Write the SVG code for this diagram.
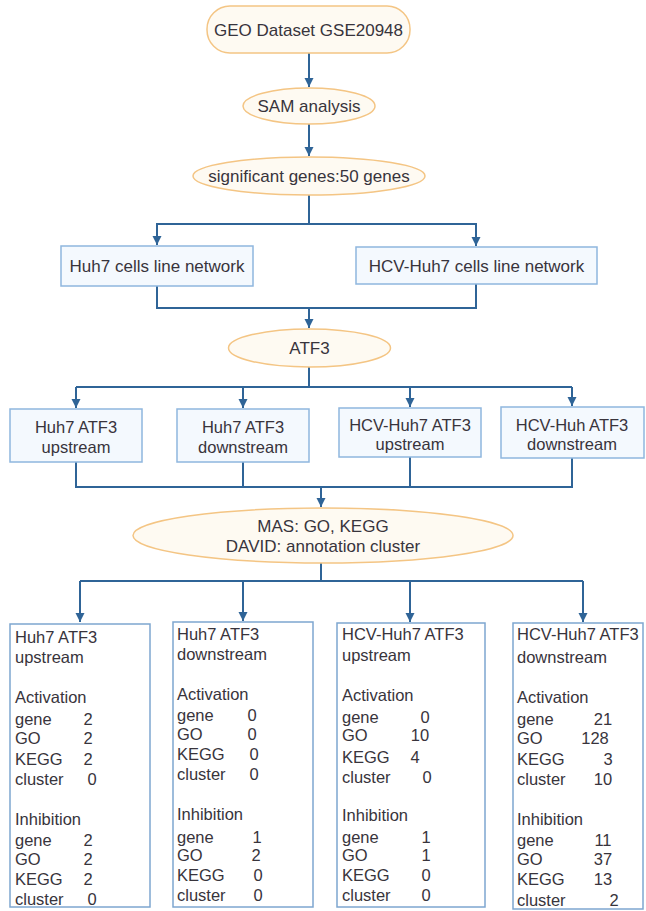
<svg xmlns="http://www.w3.org/2000/svg" width="646" height="911" viewBox="0 0 646 911">
<defs>
<marker id="arr" markerUnits="userSpaceOnUse" markerWidth="10" markerHeight="10" refX="9" refY="5" orient="auto">
<path d="M0,0.5 L9,5 L0,9.5 z" fill="#2f6497"/>
</marker>
<style>
.t{font-family:"Liberation Sans",Arial,sans-serif;font-size:17px;fill:#38343c;}
.s{font-family:"Liberation Sans",Arial,sans-serif;font-size:16.5px;fill:#38343c;}
.m{text-anchor:middle;}
.ov{fill:#fefaf2;stroke:#f4c584;stroke-width:1.5;}
.bx{fill:#f4f9fe;stroke:#8fb6de;stroke-width:1.5;}
.bb{fill:#ffffff;stroke:#7ea6d0;stroke-width:1.5;}
.c{fill:none;stroke:#2f6497;stroke-width:2;}
</style>
</defs>
<rect width="646" height="911" fill="#ffffff"/>

<g id="connectors">
<path class="c" d="M309,53 V87" marker-end="url(#arr)"/>
<path class="c" d="M309,124 V156" marker-end="url(#arr)"/>
<path class="c" d="M309,195 V224 H157 V245" marker-end="url(#arr)"/>
<path class="c" d="M309,224 H476 V246" marker-end="url(#arr)"/>
<path class="c" d="M157,286 V308 H476 V284"/>
<path class="c" d="M309,308 V328" marker-end="url(#arr)"/>
<path class="c" d="M309,367 V387"/>
<path class="c" d="M76,387 H572"/>
<path class="c" d="M76,387 V408" marker-end="url(#arr)"/>
<path class="c" d="M243,387 V408" marker-end="url(#arr)"/>
<path class="c" d="M410,387 V407" marker-end="url(#arr)"/>
<path class="c" d="M572,387 V406" marker-end="url(#arr)"/>
<path class="c" d="M76,462 V487 H572 V458"/>
<path class="c" d="M243,462 V487"/>
<path class="c" d="M410,457 V487"/>
<path class="c" d="M321,487 V507" marker-end="url(#arr)"/>
<path class="c" d="M321,563 V581"/>
<path class="c" d="M80,581 H583"/>
<path class="c" d="M80,581 V622" marker-end="url(#arr)"/>
<path class="c" d="M243,581 V621" marker-end="url(#arr)"/>
<path class="c" d="M410,581 V622" marker-end="url(#arr)"/>
<path class="c" d="M583,581 V622" marker-end="url(#arr)"/>
</g>

<g id="geo">
<rect class="ov" x="207" y="6" width="203" height="47" rx="23"/>
<text class="t m" x="308.5" y="36">GEO Dataset GSE20948</text>
</g>
<g id="sam">
<ellipse class="ov" cx="309" cy="106" rx="66" ry="18"/>
<text class="t m" x="309" y="112">SAM analysis</text>
</g>
<g id="sig">
<ellipse class="ov" cx="309" cy="176" rx="116" ry="19"/>
<text class="t m" x="309" y="182">significant genes:50 genes</text>
</g>
<g id="huh7net">
<rect class="bx" x="61" y="246" width="192" height="40"/>
<text class="t m" x="157" y="272">Huh7 cells line network</text>
</g>
<g id="hcvnet">
<rect class="bx" x="356" y="247" width="241" height="37"/>
<text class="t m" x="476.5" y="272">HCV-Huh7 cells line network</text>
</g>
<g id="atf3">
<ellipse class="ov" cx="309.5" cy="348" rx="81" ry="19"/>
<text class="t m" x="309.5" y="354">ATF3</text>
</g>

<g id="m1">
<rect class="bx" x="10" y="409" width="132" height="53"/>
<text class="s m" x="76" y="433">Huh7 ATF3</text>
<text class="s m" x="76" y="453">upstream</text>
</g>
<g id="m2">
<rect class="bx" x="177" y="409" width="132" height="53"/>
<text class="s m" x="243" y="433">Huh7 ATF3</text>
<text class="s m" x="243" y="453">downstream</text>
</g>
<g id="m3">
<rect class="bx" x="339" y="408" width="142" height="49"/>
<text class="s m" x="410" y="431">HCV-Huh7 ATF3</text>
<text class="s m" x="410" y="450">upstream</text>
</g>
<g id="m4">
<rect class="bx" x="501" y="407" width="143" height="51"/>
<text class="s m" x="572" y="431">HCV-Huh ATF3</text>
<text class="s m" x="572" y="450">downstream</text>
</g>

<g id="mas">
<ellipse class="ov" cx="323" cy="535.5" rx="190" ry="27.5"/>
<text class="t m" x="323" y="532">MAS: GO, KEGG</text>
<text class="t m" x="323" y="552">DAVID: annotation cluster</text>
</g>

<g id="b1">
<rect class="bb" x="10" y="624" width="140" height="283"/>
<text class="s" x="15" y="643">Huh7 ATF3</text>
<text class="s" x="15" y="663">upstream</text>
<text class="s" x="15" y="703">Activation</text>
<text class="s" x="15" y="725">gene</text><text class="s m" x="88" y="725">2</text>
<text class="s" x="15" y="744">GO</text><text class="s m" x="88" y="744">2</text>
<text class="s" x="15" y="765">KEGG</text><text class="s m" x="88" y="765">2</text>
<text class="s" x="15" y="785">cluster</text><text class="s m" x="92" y="785">0</text>
<text class="s" x="15" y="825">Inhibition</text>
<text class="s" x="15" y="846">gene</text><text class="s m" x="88" y="846">2</text>
<text class="s" x="15" y="865">GO</text><text class="s m" x="88" y="865">2</text>
<text class="s" x="15" y="885">KEGG</text><text class="s m" x="88" y="885">2</text>
<text class="s" x="15" y="905">cluster</text><text class="s m" x="92" y="905">0</text>
</g>
<g id="b2">
<rect class="bb" x="173" y="622" width="140" height="285"/>
<text class="s" x="177" y="640">Huh7 ATF3</text>
<text class="s" x="177" y="660">downstream</text>
<text class="s" x="177" y="700">Activation</text>
<text class="s" x="177" y="721">gene</text><text class="s m" x="252" y="721">0</text>
<text class="s" x="177" y="740">GO</text><text class="s m" x="252" y="740">0</text>
<text class="s" x="177" y="760">KEGG</text><text class="s m" x="254" y="760">0</text>
<text class="s" x="177" y="780">cluster</text><text class="s m" x="254" y="780">0</text>
<text class="s" x="177" y="820">Inhibition</text>
<text class="s" x="177" y="843">gene</text><text class="s m" x="257" y="843">1</text>
<text class="s" x="177" y="861">GO</text><text class="s m" x="256" y="861">2</text>
<text class="s" x="177" y="881">KEGG</text><text class="s m" x="258" y="881">0</text>
<text class="s" x="177" y="901">cluster</text><text class="s m" x="258" y="901">0</text>
</g>
<g id="b3">
<rect class="bb" x="337" y="623" width="148" height="284"/>
<text class="s" x="342" y="640">HCV-Huh7 ATF3</text>
<text class="s" x="342" y="661">upstream</text>
<text class="s" x="342" y="701">Activation</text>
<text class="s" x="342" y="723">gene</text><text class="s m" x="425" y="723">0</text>
<text class="s" x="342" y="741">GO</text><text class="s m" x="420" y="741">10</text>
<text class="s" x="342" y="763">KEGG</text><text class="s m" x="415" y="763">4</text>
<text class="s" x="342" y="783">cluster</text><text class="s m" x="427" y="783">0</text>
<text class="s" x="342" y="821">Inhibition</text>
<text class="s" x="342" y="843">gene</text><text class="s m" x="426" y="843">1</text>
<text class="s" x="342" y="861">GO</text><text class="s m" x="426" y="861">1</text>
<text class="s" x="342" y="881">KEGG</text><text class="s m" x="426" y="881">0</text>
<text class="s" x="342" y="901">cluster</text><text class="s m" x="426" y="901">0</text>
</g>
<g id="b4">
<rect class="bb" x="513" y="623" width="130" height="286"/>
<text class="s" x="517" y="640">HCV-Huh7 ATF3</text>
<text class="s" x="517" y="663">downstream</text>
<text class="s" x="517" y="703">Activation</text>
<text class="s" x="517" y="725">gene</text><text class="s m" x="603" y="725">21</text>
<text class="s" x="517" y="744">GO</text><text class="s m" x="595" y="744">128</text>
<text class="s" x="517" y="765">KEGG</text><text class="s m" x="608" y="765">3</text>
<text class="s" x="517" y="785">cluster</text><text class="s m" x="603" y="785">10</text>
<text class="s" x="517" y="825">Inhibition</text>
<text class="s" x="517" y="846">gene</text><text class="s m" x="603" y="846">11</text>
<text class="s" x="517" y="865">GO</text><text class="s m" x="603" y="865">37</text>
<text class="s" x="517" y="885">KEGG</text><text class="s m" x="603" y="885">13</text>
<text class="s" x="517" y="906">cluster</text><text class="s m" x="614" y="906">2</text>
</g>
</svg>
